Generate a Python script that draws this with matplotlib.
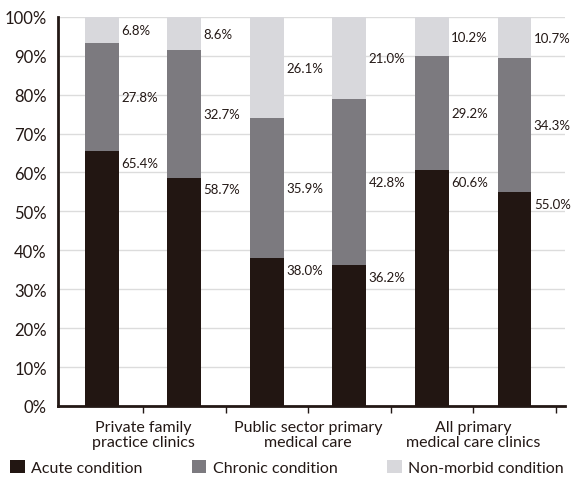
import matplotlib.pyplot as plt
from matplotlib.patches import Patch
import numpy as np

plt.rcParams['font.family'] = ['Lato', 'DejaVu Sans']

groups = ['Private family\npractice clinics', 'Public sector primary\nmedical care',
          'All primary\nmedical care clinics']
acute = [65.4, 58.7, 38.0, 36.2, 60.6, 55.0]
chronic = [27.8, 32.7, 35.9, 42.8, 29.2, 34.3]
nonmorbid = [6.8, 8.6, 26.1, 21.0, 10.2, 10.7]
series = ['Acute condition', 'Chronic condition', 'Non-morbid condition']
colors = ['#221612', '#7c7a7f', '#d8d8dc']
ink = '#231815'

x = np.arange(len(acute))
w = 0.41

fig = plt.figure(figsize=(5.74, 4.81), dpi=100)
ax = fig.add_axes([0.101, 0.154, 0.883, 0.809])

acute = np.array(acute)
chronic = np.array(chronic)
nonmorbid = np.array(nonmorbid)

ax.bar(x, acute, w, color=colors[0], zorder=3)
ax.bar(x, chronic, w, bottom=acute, color=colors[1], zorder=3)
ax.bar(x, nonmorbid, w, bottom=acute + chronic, color=colors[2], zorder=3)

for i in x:
    lx = i + w / 2 + 0.03
    ax.text(lx, acute[i] - 3, f'{acute[i]:.1f}%', va='center', ha='left', fontsize=9.5, color=ink)
    ax.text(lx, acute[i] + chronic[i] / 2, f'{chronic[i]:.1f}%', va='center', ha='left',
            fontsize=9.5, color=ink)
    ax.text(lx, acute[i] + chronic[i] + nonmorbid[i] / 2, f'{nonmorbid[i]:.1f}%',
            va='center', ha='left', fontsize=9.5, color=ink)

ax.set_xlim(-0.53, 5.61)
ax.set_ylim(0, 100)
ax.set_yticks(np.arange(0, 101, 10))
ax.set_yticklabels([f'{v}%' for v in range(0, 101, 10)], fontsize=12, color=ink)
ax.yaxis.grid(True, color='#dcdcdc', linewidth=1, zorder=0)
ax.tick_params(axis='y', length=0, pad=8)

ax.set_xticks([0.5, 2.5, 4.5])
ax.set_xticklabels(groups, fontsize=11.5, color=ink, linespacing=1.1)
ax.set_xticks([1.5, 3.5, 5.5], minor=True)
ax.tick_params(axis='x', which='both', direction='out', length=5, width=1, color=ink, pad=5)

for s in ['top', 'right']:
    ax.spines[s].set_visible(False)
for s in ['left', 'bottom']:
    ax.spines[s].set_color(ink)
    ax.spines[s].set_linewidth(2)

handles = [Patch(facecolor=c, edgecolor='none') for c in colors]
fig.legend(handles, series, loc='lower center', bbox_to_anchor=(0.5, -0.02), ncol=3,
           frameon=False, fontsize=11.5, handlelength=0.9, handleheight=0.9,
           handletextpad=0.4, columnspacing=3.1, labelcolor=ink)

fig.savefig('out.png', dpi=100)
